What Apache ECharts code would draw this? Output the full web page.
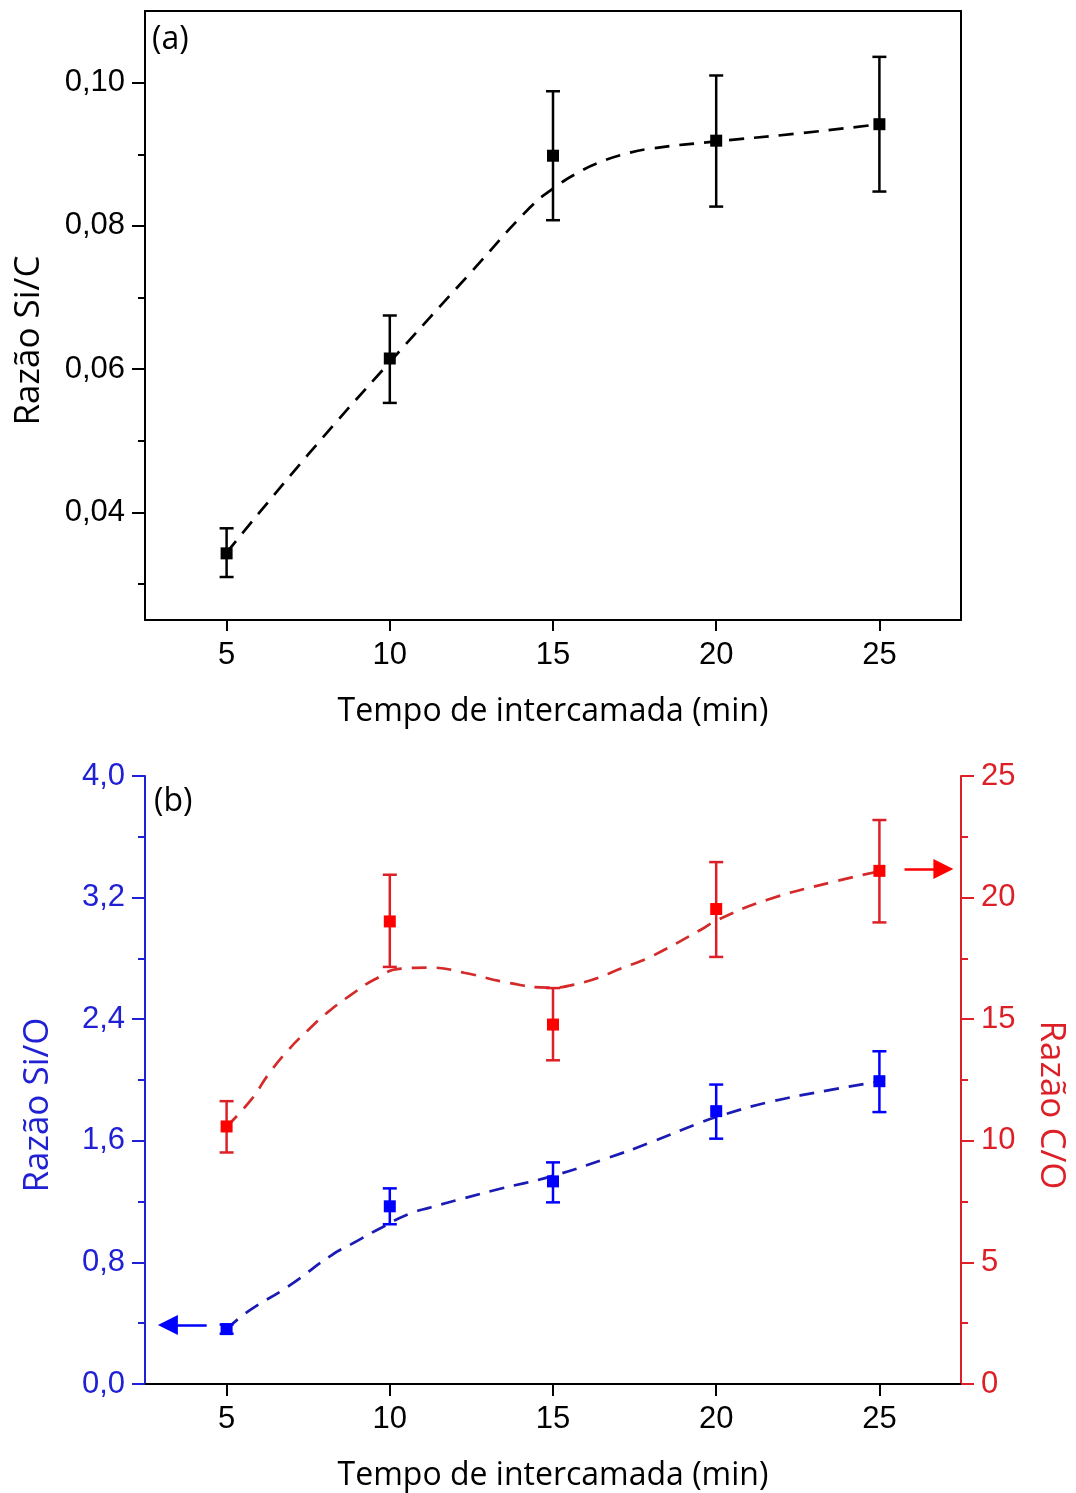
<!DOCTYPE html>
<html><head><meta charset="utf-8">
<script src="https://cdn.jsdelivr.net/npm/echarts@6/dist/echarts.min.js"></script>
<style>html,body{margin:0;padding:0;background:#fff}#c{width:1076px;height:1493px}</style>
</head><body><div id="c"></div>
<script>
// ---------- data ----------
const times = [5, 10, 15, 20, 25];
const xTickValues = [5, 10, 15, 20, 25];

// (a) Si/C
const siC = [0.0343, 0.0615, 0.0898, 0.0919, 0.0942];
const siCLow = [0.0310, 0.0553, 0.0808, 0.0827, 0.0848];
const siCHigh = [0.0378, 0.0675, 0.0988, 0.1010, 0.1036];
const siCFitX = [5, 7.5, 10, 12.5, 14.3, 15, 15.75, 16.5, 17.25, 18, 20, 22.5, 25];
const siCFitY = [0.0344, 0.0481, 0.0610, 0.0736, 0.0826, 0.0852, 0.0874, 0.0890, 0.0901, 0.0908, 0.0918, 0.0929, 0.0942];
const siCTickValues = [0.04, 0.06, 0.08, 0.10];
const siCTickLabels = ['0,04', '0,06', '0,08', '0,10'];
const siCMinorTicks = [0.03, 0.05, 0.07, 0.09];

// (b) Si/O (left) and C/O (right)
const siO = [0.361, 1.169, 1.333, 1.795, 1.992];
const siOLow = [0.331, 1.051, 1.195, 1.614, 1.789];
const siOHigh = [0.391, 1.287, 1.458, 1.970, 2.189];
const siOFitX = [5, 5.67, 6.9, 8.21, 8.82, 9.65, 10.57, 11.27, 12.28, 13.32, 14.94, 16.56, 18.0, 19.53, 20.05, 21.57, 23.59, 25];
const siOFitY = [0.361, 0.479, 0.644, 0.847, 0.920, 1.018, 1.117, 1.163, 1.222, 1.281, 1.366, 1.478, 1.590, 1.721, 1.760, 1.852, 1.938, 1.990];
const cO = [10.59, 19.02, 14.78, 19.53, 21.10];
const cOLow = [9.52, 17.15, 13.31, 17.56, 18.98];
const cOHigh = [11.63, 20.94, 16.28, 21.46, 23.19];
const cOFitX = [5, 5.76, 6.28, 6.9, 7.51, 8.12, 8.82, 9.53, 10.35, 11.27, 12.28, 13.63, 14.85, 15.65, 17.39, 18.0, 19.53, 20.05, 21.57, 23.59, 25];
const cOFitY = [10.59, 11.70, 12.73, 13.75, 14.57, 15.31, 16.01, 16.63, 17.08, 17.12, 16.91, 16.50, 16.30, 16.42, 17.24, 17.57, 18.68, 19.09, 19.91, 20.65, 21.08];
const siOTickValues = [0, 0.8, 1.6, 2.4, 3.2, 4.0];
const siOTickLabels = ['0,0', '0,8', '1,6', '2,4', '3,2', '4,0'];
const siOMinorTicks = [0.4, 1.2, 2.0, 2.8, 3.6];
const cOTickValues = [0, 5, 10, 15, 20, 25];
const cOTickLabels = ['0', '5', '10', '15', '20', '25'];
const cOMinorTicks = [2.5, 7.5, 12.5, 17.5, 22.5];
// arrow annotations (data units): [y, tail x, head-centre x]
const arrowSiO = [0.388, 4.39, 3.2];
const arrowCO = [21.18, 25.77, 26.96];

// ---------- styles ----------
const BLACK = '#000000';
const BLUE = '#0000ff', BLUE_AX = '#2020d4', BLUE_LINE = '#1a1ab4';
const RED = '#ff0000', RED_AX = '#dd2027', RED_LINE = '#d42a2a';
const NUMFONT = 'Liberation Sans, Arial, sans-serif';
const TXTFONT = 'Open Sans, sans-serif';
const DASH = [15, 10];

function labelFrom(values, labels) {
  return v => {
    let best = 0;
    for (let i = 1; i < values.length; i++) if (Math.abs(values[i] - v) < Math.abs(values[best] - v)) best = i;
    return labels[best];
  };
}
function zip(a, b, c) { return a.map((v, i) => c ? [v, b[i], c[i]] : [v, b[i]]); }

function errRender(color) {
  return function (params, api) {
    const x = api.value(0), lo = api.value(1), hi = api.value(2);
    const pLo = api.coord([x, lo]), pHi = api.coord([x, hi]);
    const hw = 7;
    const style = { stroke: color, lineWidth: 2.5, fill: null };
    return { type: 'group', children: [
      { type: 'line', shape: { x1: pLo[0], y1: pLo[1], x2: pHi[0], y2: pHi[1] }, style: style },
      { type: 'line', shape: { x1: pLo[0] - hw, y1: pLo[1], x2: pLo[0] + hw, y2: pLo[1] }, style: style },
      { type: 'line', shape: { x1: pHi[0] - hw, y1: pHi[1], x2: pHi[0] + hw, y2: pHi[1] }, style: style }
    ]};
  };
}

function xBottom(grid) {
  return {
    type: 'value', gridIndex: grid, position: 'bottom', min: 2.5, max: 27.5,
    axisLine: { lineStyle: { color: BLACK, width: 2 } },
    axisTick: { customValues: xTickValues, length: 11, lineStyle: { color: BLACK, width: 2 } },
    axisLabel: { customValues: xTickValues, fontSize: 31, color: BLACK, fontFamily: NUMFONT, margin: 20 },
    splitLine: { show: false },
    name: 'Tempo de intercamada (min)', nameLocation: 'middle', nameGap: 76,
    nameTextStyle: { fontSize: 32, fontFamily: TXTFONT, color: BLACK }
  };
}
function xTop(grid, ticks) {
  return {
    type: 'value', gridIndex: grid, position: 'top', min: 2.5, max: 27.5,
    axisLine: { lineStyle: { color: BLACK, width: 2 } },
    axisTick: ticks ? { customValues: xTickValues, inside: true, length: 12, lineStyle: { color: BLACK, width: 2 } } : { show: false },
    axisLabel: { show: false }, splitLine: { show: false }
  };
}

const option = {
  backgroundColor: '#fff',
  animation: false,
  title: [
    { text: '(a)', left: 152, top: 24, padding: 0, textStyle: { fontSize: 32, fontWeight: 'normal', fontFamily: TXTFONT, color: BLACK } },
    { text: '(b)', left: 154, top: 786, padding: 0, textStyle: { fontSize: 32, fontWeight: 'normal', fontFamily: TXTFONT, color: BLACK } }
  ],
  grid: [
    { left: 145, right: 115, top: 11, height: 609 },
    { left: 145, right: 115, top: 776, height: 609 }
  ],
  xAxis: [ xBottom(0), xTop(0, false), xBottom(1), xTop(1, true) ],
  yAxis: [
    // 0: (a) left major
    { type: 'value', gridIndex: 0, position: 'left', min: 0.025, max: 0.11,
      axisLine: { lineStyle: { color: BLACK, width: 2 } },
      axisTick: { customValues: siCTickValues, length: 13, lineStyle: { color: BLACK, width: 2 } },
      axisLabel: { customValues: siCTickValues, formatter: labelFrom(siCTickValues, siCTickLabels), fontSize: 31, color: BLACK, fontFamily: NUMFONT, margin: 20 },
      splitLine: { show: false },
      name: 'Razão Si/C', nameLocation: 'middle', nameGap: 98,
      nameTextStyle: { fontSize: 35, fontFamily: TXTFONT, color: BLACK, padding: [0, 50, 0, 0] } },
    // 1: (a) left minor
    { type: 'value', gridIndex: 0, position: 'left', min: 0.025, max: 0.11,
      axisLine: { show: false },
      axisTick: { customValues: siCMinorTicks, length: 7, lineStyle: { color: BLACK, width: 2 } },
      axisLabel: { show: false }, splitLine: { show: false } },
    // 2: (a) right frame
    { type: 'value', gridIndex: 0, position: 'right', min: 0.025, max: 0.11,
      axisLine: { show: true, lineStyle: { color: BLACK, width: 2 } },
      axisTick: { show: false }, axisLabel: { show: false }, splitLine: { show: false } },
    // 3: (b) left major (Si/O)
    { type: 'value', gridIndex: 1, position: 'left', min: 0, max: 4,
      axisLine: { lineStyle: { color: BLUE_AX, width: 2 } },
      axisTick: { customValues: siOTickValues, length: 13, lineStyle: { color: BLUE_AX, width: 2 } },
      axisLabel: { customValues: siOTickValues, formatter: labelFrom(siOTickValues, siOTickLabels), fontSize: 31, color: BLUE_AX, fontFamily: NUMFONT, margin: 20 },
      splitLine: { show: false },
      name: 'Razão Si/O', nameLocation: 'middle', nameGap: 89,
      nameTextStyle: { fontSize: 35, fontFamily: TXTFONT, color: BLUE_AX, padding: [0, 50, 0, 0] } },
    // 4: (b) left minor
    { type: 'value', gridIndex: 1, position: 'left', min: 0, max: 4,
      axisLine: { show: false },
      axisTick: { customValues: siOMinorTicks, length: 7, lineStyle: { color: BLUE_AX, width: 2 } },
      axisLabel: { show: false }, splitLine: { show: false } },
    // 5: (b) right major (C/O)
    { type: 'value', gridIndex: 1, position: 'right', min: 0, max: 25,
      axisLine: { show: true, lineStyle: { color: RED_AX, width: 2 } },
      axisTick: { show: true, customValues: cOTickValues, length: 13, lineStyle: { color: RED_AX, width: 2 } },
      axisLabel: { show: true, customValues: cOTickValues, formatter: labelFrom(cOTickValues, cOTickLabels), fontSize: 31, color: RED_AX, fontFamily: NUMFONT, margin: 20 },
      splitLine: { show: false },
      name: 'Razão C/O', nameLocation: 'middle', nameGap: 72, nameRotate: -90,
      nameTextStyle: { fontSize: 35, fontFamily: TXTFONT, color: RED_AX, padding: [0, 0, 0, 50] } },
    // 6: (b) right minor
    { type: 'value', gridIndex: 1, position: 'right', min: 0, max: 25,
      axisLine: { show: false },
      axisTick: { show: true, customValues: cOMinorTicks, length: 7, lineStyle: { color: RED_AX, width: 2 } },
      axisLabel: { show: false }, splitLine: { show: false } }
  ],
  series: [
    // (a)
    { type: 'line', xAxisIndex: 0, yAxisIndex: 0, data: zip(siCFitX, siCFitY), smooth: 0.5, showSymbol: false, symbol: 'none',
      lineStyle: { color: BLACK, width: 2.7, type: DASH }, z: 2 },
    { type: 'custom', xAxisIndex: 0, yAxisIndex: 0, data: zip(times, siCLow, siCHigh), renderItem: errRender(BLACK), encode: { x: 0, y: [1, 2] }, z: 3 },
    { type: 'scatter', xAxisIndex: 0, yAxisIndex: 0, data: zip(times, siC), symbol: 'rect', symbolSize: 12, itemStyle: { color: BLACK, opacity: 1 }, z: 4 },
    // (b) Si/O
    { type: 'line', xAxisIndex: 2, yAxisIndex: 3, data: zip(siOFitX, siOFitY), smooth: 0.5, showSymbol: false, symbol: 'none',
      lineStyle: { color: BLUE_LINE, width: 2.7, type: DASH }, z: 2 },
    { type: 'custom', xAxisIndex: 2, yAxisIndex: 3, data: zip(times, siOLow, siOHigh), renderItem: errRender(BLUE), encode: { x: 0, y: [1, 2] }, z: 3 },
    { type: 'scatter', xAxisIndex: 2, yAxisIndex: 3, data: zip(times, siO), symbol: 'rect', symbolSize: 12, itemStyle: { color: BLUE, opacity: 1 }, z: 4,
      markLine: { silent: true, symbol: ['none', 'triangle'], symbolSize: [20, 20], label: { show: false },
        lineStyle: { color: BLUE, width: 2.5, type: 'solid' },
        data: [[{ coord: [arrowSiO[1], arrowSiO[0]] }, { coord: [arrowSiO[2], arrowSiO[0]] }]] } },
    // (b) C/O
    { type: 'line', xAxisIndex: 2, yAxisIndex: 5, data: zip(cOFitX, cOFitY), smooth: 0.5, showSymbol: false, symbol: 'none',
      lineStyle: { color: RED_LINE, width: 2.7, type: DASH }, z: 2 },
    { type: 'custom', xAxisIndex: 2, yAxisIndex: 5, data: zip(times, cOLow, cOHigh), renderItem: errRender(RED_AX), encode: { x: 0, y: [1, 2] }, z: 3 },
    { type: 'scatter', xAxisIndex: 2, yAxisIndex: 5, data: zip(times, cO), symbol: 'rect', symbolSize: 12, itemStyle: { color: RED, opacity: 1 }, z: 4,
      markLine: { silent: true, symbol: ['none', 'triangle'], symbolSize: [20, 20], label: { show: false },
        lineStyle: { color: RED, width: 2.5, type: 'solid' },
        data: [[{ coord: [arrowCO[1], arrowCO[0]] }, { coord: [arrowCO[2], arrowCO[0]] }]] } }
  ]
};

const chart = echarts.init(document.getElementById('c'), null, { renderer: 'canvas' });
chart.setOption(option);
</script>
</body></html>
